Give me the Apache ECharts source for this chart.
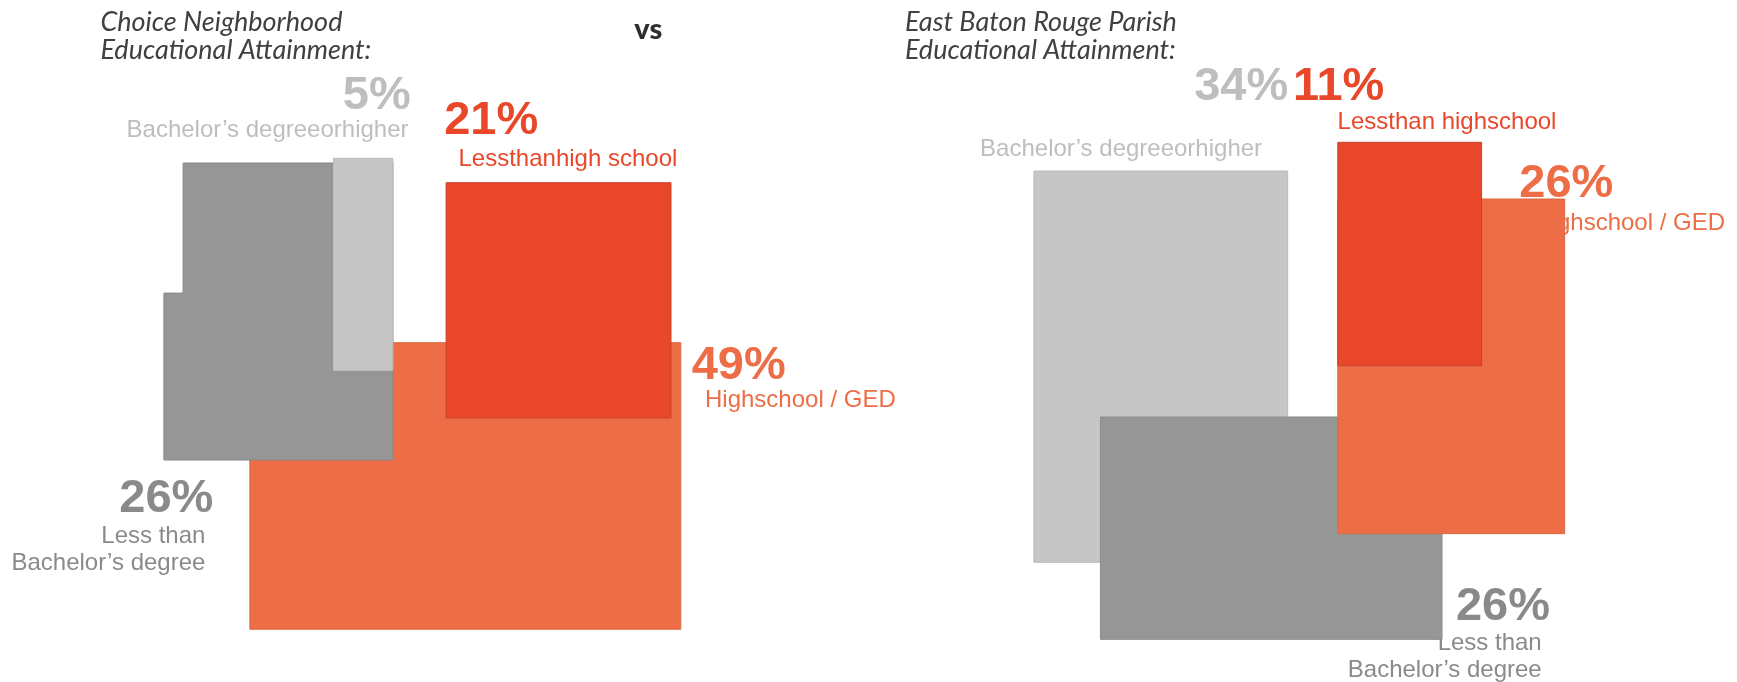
<!DOCTYPE html>
<html>
<head>
<meta charset="utf-8">
<title>Educational Attainment</title>
<script src="https://cdn.jsdelivr.net/npm/echarts/dist/echarts.min.js"></script>
<style>
  html, body { margin: 0; padding: 0; background: #ffffff; }
  #chart { width: 1737px; height: 682px; }
</style>
</head>
<body>
<div id="chart"></div>
<script>
// ---- data -------------------------------------------------------------
// category order: less than high school, high school / GED,
// less than bachelor's degree, bachelor's degree or higher
const categories = ['Less than high school', 'High school / GED', 'Less than Bachelor’s degree', 'Bachelor’s degree or higher'];
const neighborhoodShares = [21, 49, 26, 5];
const parishShares = [11, 26, 26, 34];
const neighborhoodNames = ['Lessthanhigh school', 'Highschool / GED', 'Less than\nBachelor’s degree', 'Bachelor’s degreeorhigher'];
const parishNames = ['Lessthan highschool', 'Highschool / GED', 'Less than\nBachelor’s degree', 'Bachelor’s degreeorhigher'];
const panelTitles = ['Choice Neighborhood\nEducational Attainment:', 'East Baton Rouge Parish\nEducational Attainment:'];
const versusLabel = 'vs';

// ---- styles -----------------------------------------------------------
const blockColors = ['#E8472A', '#EC6D46', '#969696', '#C6C6C6'];
const edgeColors  = ['#C9452C', '#DD6843', '#8A8A8A', '#BBBBBB'];
const textColors  = ['#E8472A', '#EC6D46', '#8A8A8A', '#BEBEBE'];
const LABEL_FONT = '"Liberation Sans", Arial, Helvetica, sans-serif';
const TITLE_FONT = 'Lato, "Open Sans", sans-serif';

// ---- layout (plot units; one unit per screen pixel) ---------------------
// Each block is a rectangle whose area equals share * unitArea.
// anchor: point in plot units, pin: which point of the block sits on it
// (fractions of width / height), aspect: width / height,
// notch: cut-out at the top-left corner as fractions of width / height.
const panels = [
  {
    shares: neighborhoodShares,
    names: neighborhoodNames,
    unitArea: 2520,
    drawOrder: [1, 2, 3, 0],
    blocks: [
      { anchor: [671, 182.7], pin: [1, 0], aspect: 0.956 },
      { anchor: [680.8, 342.7], pin: [1, 0], aspect: 1.504 },
      { anchor: [392.9, 460], pin: [1, 1], aspect: 0.771, notch: [0.0837, 0.438] },
      { anchor: [392.9, 158.3], pin: [1, 0], aspect: 0.28 }
    ],
    labels: [
      { num: [444.2, 120.8], numAlign: 'left',  name: [458.5, 159.6], nameAlign: 'left' },
      { num: [691.7, 365.8], numAlign: 'left',  name: [705, 400.3],   nameAlign: 'left' },
      { num: [213.4, 498.7], numAlign: 'right', name: [205.4, 550.3], nameAlign: 'right' },
      { num: [410.7, 95.9],  numAlign: 'right', name: [408.5, 130.6], nameAlign: 'right' }
    ]
  },
  {
    shares: parishShares,
    names: parishNames,
    unitArea: 2920,
    drawOrder: [3, 2, 1, 0],
    blocks: [
      { anchor: [1337.8, 142.3], pin: [0, 0], aspect: 0.6438 },
      { anchor: [1337.8, 199], pin: [0, 0], aspect: 0.678 },
      { anchor: [1442, 639.3], pin: [1, 1], aspect: 1.5365 },
      { anchor: [1160.8, 171], pin: [0.5, 0], aspect: 0.6485 }
    ],
    labels: [
      { num: [1292.9, 87.3], numAlign: 'left',  name: [1337.6, 122.6], nameAlign: 'left' },
      { num: [1519.3, 184.5], numAlign: 'left', name: [1534.3, 222.9], nameAlign: 'left' },
      { num: [1550, 607],    numAlign: 'right', name: [1541.7, 657],   nameAlign: 'right' },
      { num: [1288.3, 87.3], numAlign: 'right', name: [980.1, 149.6],  nameAlign: 'left' }
    ]
  }
];
const titleLayout = [
  { x: 100.4, y: 8.5 },
  { x: 904.9, y: 8.5 }
];
const versusLayout = { x: 648.3, y: 29.3 };

// ---- series data: [share, panel, category] in drawing order ------------
const blockData = [];
const labelData = [];
panels.forEach(function (p, pi) {
  p.drawOrder.forEach(function (ci) { blockData.push([p.shares[ci], pi, ci]); });
  p.shares.forEach(function (v, ci) { labelData.push([v, pi, ci]); });
});

function blockGeometry(share, panel, cat) {
  const p = panels[panel];
  const b = p.blocks[cat];
  const notch = b.notch || [0, 0];
  const area = share * p.unitArea / (1 - notch[0] * notch[1]);
  const h = Math.sqrt(area / b.aspect);
  const w = h * b.aspect;
  const x0 = b.anchor[0] - b.pin[0] * w;
  const y0 = b.anchor[1] - b.pin[1] * h;
  return { x0: x0, y0: y0, x1: x0 + w, y1: y0 + h, nw: notch[0] * w, nh: notch[1] * h };
}

function renderBlock(params, api) {
  const share = api.value(0), panel = api.value(1), cat = api.value(2);
  const g = blockGeometry(share, panel, cat);
  let pts;
  if (g.nw > 0 && g.nh > 0) {
    pts = [[g.x0 + g.nw, g.y0], [g.x1, g.y0], [g.x1, g.y1], [g.x0, g.y1],
           [g.x0, g.y0 + g.nh], [g.x0 + g.nw, g.y0 + g.nh]];
  } else {
    pts = [[g.x0, g.y0], [g.x1, g.y0], [g.x1, g.y1], [g.x0, g.y1]];
  }
  return {
    type: 'polygon',
    shape: { points: pts.map(function (pt) { return api.coord(pt); }) },
    style: { fill: blockColors[cat], stroke: edgeColors[cat], lineWidth: 1 }
  };
}

function renderLabel(params, api) {
  const share = api.value(0), panel = api.value(1), cat = api.value(2);
  const p = panels[panel];
  const l = p.labels[cat];
  const np = api.coord(l.num);
  const tp = api.coord(l.name);
  return {
    type: 'group',
    children: [
      {
        type: 'text',
        style: {
          x: np[0], y: np[1], text: share + '%',
          fill: textColors[cat], fontFamily: LABEL_FONT, fontWeight: 'bold', fontSize: 47,
          align: l.numAlign, verticalAlign: 'middle'
        }
      },
      {
        type: 'text',
        style: {
          x: tp[0], y: tp[1], text: p.names[cat],
          fill: textColors[cat], fontFamily: LABEL_FONT, fontSize: 24, lineHeight: 27,
          align: l.nameAlign, verticalAlign: 'middle'
        }
      }
    ]
  };
}

const chart = echarts.init(document.getElementById('chart'), null, { renderer: 'canvas' });
chart.setOption({
  animation: false,
  backgroundColor: '#ffffff',
  grid: { left: 0, right: 0, top: 0, bottom: 0 },
  xAxis: { type: 'value', min: 0, max: 1737, show: false },
  yAxis: { type: 'value', min: 0, max: 682, inverse: true, show: false },
  graphic: [
    {
      type: 'text', x: titleLayout[0].x, y: titleLayout[0].y,
      style: { text: panelTitles[0], fill: '#404040', font: 'italic 27px ' + TITLE_FONT, lineHeight: 28, verticalAlign: 'top' }
    },
    {
      type: 'text', x: titleLayout[1].x, y: titleLayout[1].y,
      style: { text: panelTitles[1], fill: '#404040', font: 'italic 27px ' + TITLE_FONT, lineHeight: 28, verticalAlign: 'top' }
    },
    {
      type: 'text', x: versusLayout.x, y: versusLayout.y,
      style: { text: versusLabel, fill: '#2E2E2E', font: '900 29px ' + TITLE_FONT, align: 'center', verticalAlign: 'middle' }
    }
  ],
  series: [
    {
      type: 'custom', name: 'labels', z: 1, silent: true, clip: false,
      coordinateSystem: 'cartesian2d',
      encode: { x: 0, y: 1 },
      renderItem: renderLabel,
      data: labelData
    },
    {
      type: 'custom', name: 'blocks', z: 2, silent: true, clip: false,
      coordinateSystem: 'cartesian2d',
      encode: { x: 0, y: 1 },
      renderItem: renderBlock,
      data: blockData
    }
  ]
});
</script>
</body>
</html>
